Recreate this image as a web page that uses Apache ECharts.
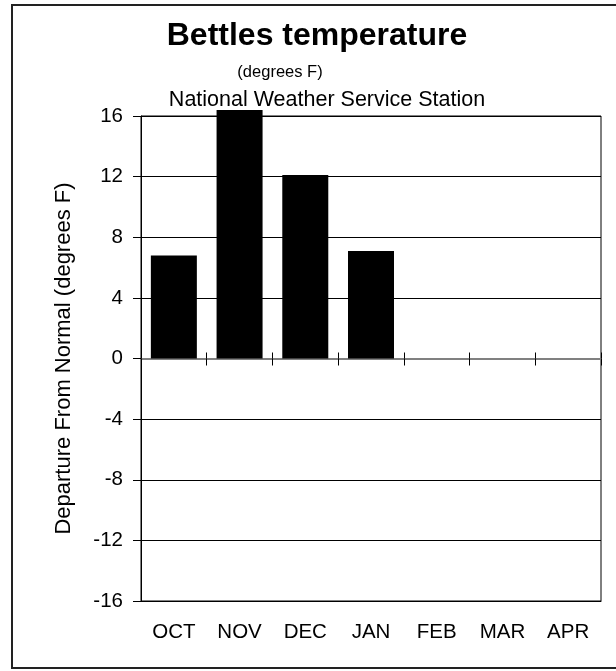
<!DOCTYPE html>
<html>
<head>
<meta charset="utf-8">
<script src="https://cdn.jsdelivr.net/npm/echarts@6/dist/echarts.min.js"></script>
<style>
html,body{margin:0;padding:0;background:#fff;}
#chart{width:616px;height:671px;}
</style>
</head>
<body>
<div id="chart"></div>
<script>
const categories = ['OCT', 'NOV', 'DEC', 'JAN', 'FEB', 'MAR', 'APR'];
const departures = [6.8, 16.4, 12.1, 7.1, null, null, null];
const titleText = 'Bettles temperature';
const subtitleText = '(degrees F)';
const stationText = 'National Weather Service Station';
const yAxisName = 'Departure From Normal (degrees F)';
const yMin = -16, yMax = 16, yStep = 4;

const FONT = '"Liberation Sans", Arial, sans-serif';
const chart = echarts.init(document.getElementById('chart'), null, {renderer: 'canvas'});
const gridBox = {left: 141, right: 15, top: 116, bottom: 70};

chart.setOption({
  animation: false,
  backgroundColor: '#fff',
  textStyle: {fontFamily: FONT},
  graphic: [
    {type: 'rect', shape: {x: 12, y: 5, width: 640, height: 663}, style: {fill: 'none', stroke: '#222', lineWidth: 2}, z: 0},
    {type: 'text', x: 317, y: 36, style: {text: titleText, font: 'bold 32px ' + FONT, fill: '#000', align: 'center', verticalAlign: 'middle'}},
    {type: 'text', x: 280, y: 72, style: {text: subtitleText, font: '16.5px ' + FONT, fill: '#000', align: 'center', verticalAlign: 'middle'}},
    {type: 'text', x: 327, y: 100, style: {text: stationText, font: '21.5px ' + FONT, fill: '#000', align: 'center', verticalAlign: 'middle'}}
  ],
  grid: [
    Object.assign({show: true, borderColor: '#000', borderWidth: 1, backgroundColor: 'transparent'}, gridBox),
    Object.assign({show: false}, gridBox)
  ],
  xAxis: [
    {
      gridIndex: 0, type: 'category', data: categories, position: 'bottom',
      axisLine: {onZero: false, lineStyle: {color: '#000', width: 1}},
      axisTick: {show: false},
      axisLabel: {color: '#000', fontSize: 20.5, margin: 21, fontFamily: FONT, interval: 0}
    },
    {
      gridIndex: 0, type: 'category', data: categories, position: 'top',
      axisLine: {onZero: true, lineStyle: {color: '#808080', width: 2}},
      axisTick: {show: true, length: 6, interval: 0, lineStyle: {color: '#000', width: 1}},
      axisLabel: {show: false}
    },
    {
      gridIndex: 1, type: 'category', data: categories, position: 'bottom',
      axisLine: {onZero: true, lineStyle: {color: '#808080', width: 2}},
      axisTick: {show: true, length: 7, interval: 0, lineStyle: {color: '#000', width: 1}},
      axisLabel: {show: false}
    }
  ],
  yAxis: [
    {
      gridIndex: 0, type: 'value', min: yMin, max: yMax, interval: yStep,
      name: yAxisName, nameLocation: 'middle', nameGap: 66,
      nameTextStyle: {color: '#000', fontSize: 22, fontFamily: FONT},
      axisLine: {show: true, onZero: false, lineStyle: {color: '#000', width: 1}},
      axisTick: {show: true, length: 8, lineStyle: {color: '#000', width: 1}},
      axisLabel: {color: '#000', fontSize: 20.5, margin: 18, fontFamily: FONT},
      splitLine: {show: true, lineStyle: {color: '#000', width: 1}}
    },
    {
      gridIndex: 1, type: 'value', min: yMin, max: yMax, interval: yStep,
      axisLine: {show: false}, axisTick: {show: false}, axisLabel: {show: false}, splitLine: {show: false}
    }
  ],
  series: [
    {
      type: 'bar', xAxisIndex: 0, yAxisIndex: 0, data: departures,
      barCategoryGap: '30%', clip: false,
      itemStyle: {color: '#000'}
    }
  ]
});
</script>
</body>
</html>
